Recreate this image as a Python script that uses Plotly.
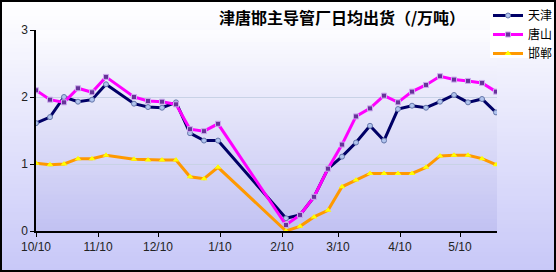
import plotly.graph_objects as go

# ---- data ----
dates = [
    "2013-10-10", "2013-10-17", "2013-10-24", "2013-10-31", "2013-11-07", "2013-11-14",
    "2013-11-28", "2013-12-05", "2013-12-12", "2013-12-19", "2013-12-26", "2014-01-02", "2014-01-09",
    "2014-02-12", "2014-02-19", "2014-02-26", "2014-03-05", "2014-03-12", "2014-03-19", "2014-03-26",
    "2014-04-02", "2014-04-09", "2014-04-16", "2014-04-23", "2014-04-30", "2014-05-07", "2014-05-14",
    "2014-05-21", "2014-05-28",
]
tianjin = [1.61, 1.70, 2.00, 1.93, 1.96, 2.19,
           1.90, 1.85, 1.84, 1.92, 1.46, 1.35, 1.35,
           0.19, 0.24, 0.51, 0.93, 1.11, 1.32, 1.57,
           1.35, 1.82, 1.87, 1.84, 1.93, 2.03, 1.92, 1.97, 1.77]
tangshan = [2.10, 1.96, 1.92, 2.13, 2.07, 2.30,
            2.00, 1.94, 1.93, 1.89, 1.52, 1.49, 1.60,
            0.09, 0.24, 0.51, 0.93, 1.29, 1.71, 1.83,
            2.02, 1.92, 2.08, 2.18, 2.31, 2.26, 2.24, 2.21, 2.08]
handan = [1.01, 0.99, 1.00, 1.08, 1.08, 1.13,
          1.07, 1.06, 1.06, 1.06, 0.81, 0.78, 0.95,
          0.00, 0.07, 0.21, 0.31, 0.66, 0.76, 0.86,
          0.86, 0.86, 0.86, 0.95, 1.12, 1.13, 1.13, 1.08, 0.99]
series_names = ["天津", "唐山", "邯郸"]
tick_dates = ["2013-10-10", "2013-11-10", "2013-12-10", "2014-01-10",
              "2014-02-10", "2014-03-10", "2014-04-10", "2014-05-10"]
tick_labels = ["10/10", "11/10", "12/10", "1/10", "2/10", "3/10", "4/10", "5/10"]
title_text = "津唐邯主导管厂日均出货（/万吨）"

W, H = 556, 272
L, R, T, B = 36, 59, 30, 41
pw, ph = W - L - R, H - T - B

fig = go.Figure()
fig.add_trace(go.Scatter(
    x=dates, y=tianjin, name=series_names[0], mode="lines+markers",
    line=dict(color="#000066", width=3),
    marker=dict(symbol="circle", size=5, color="#b0c4ee", line=dict(color="#6677aa", width=1)),
))
fig.add_trace(go.Scatter(
    x=dates, y=tangshan, name=series_names[1], mode="lines+markers",
    line=dict(color="#ff00ff", width=3),
    marker=dict(symbol="square", size=5, color="#663399", line=dict(color="#ccaaee", width=1)),
))
fig.add_trace(go.Scatter(
    x=dates, y=handan, name=series_names[2], mode="lines+markers",
    line=dict(color="#ff9900", width=3),
    marker=dict(symbol="triangle-up", size=6, color="#ffff00", line=dict(width=0)),
))


def px_to_paper_x(px):
    return (px - L) / pw


def py_to_paper_y(py):
    return (H - B - py) / ph


def lerp(c0, c1, t):
    return "rgb(%d,%d,%d)" % tuple(round(a + (b - a) * t) for a, b in zip(c0, c1))


shapes = []
# outer canvas gradient
n = 68
for i in range(n):
    y0 = i * H / n
    y1 = (i + 1) * H / n + 0.5
    shapes.append(dict(type="rect", xref="paper", yref="paper", layer="below",
                       x0=px_to_paper_x(0), x1=px_to_paper_x(W),
                       y0=py_to_paper_y(y1), y1=py_to_paper_y(y0),
                       line=dict(width=0),
                       fillcolor=lerp((255, 255, 255), (200, 200, 248), i / (n - 1))))
# plot area gradient
n2 = 50
for i in range(n2):
    y0 = T + i * ph / n2
    y1 = T + (i + 1) * ph / n2 + 0.5
    shapes.append(dict(type="rect", xref="paper", yref="paper", layer="below",
                       x0=0, x1=1,
                       y0=py_to_paper_y(min(y1, T + ph)), y1=py_to_paper_y(y0),
                       line=dict(width=0),
                       fillcolor=lerp((252, 252, 255), (194, 194, 242), i / (n2 - 1))))
# legend white box
shapes.append(dict(type="rect", xref="paper", yref="paper", layer="above",
                   x0=px_to_paper_x(490), x1=px_to_paper_x(552),
                   y0=py_to_paper_y(58), y1=py_to_paper_y(4),
                   line=dict(width=0), fillcolor="#ffffff"))
# border
shapes.append(dict(type="rect", xref="paper", yref="paper", layer="above",
                   x0=px_to_paper_x(1), x1=px_to_paper_x(W - 1),
                   y0=py_to_paper_y(H - 1), y1=py_to_paper_y(1),
                   line=dict(color="#000000", width=2), fillcolor="rgba(0,0,0,0)"))

fig.update_layout(
    width=W, height=H,
    margin=dict(l=L, r=R, t=T, b=B, pad=0, autoexpand=False),
    paper_bgcolor="#ffffff",
    plot_bgcolor="rgba(0,0,0,0)",
    shapes=shapes,
    showlegend=True,
    legend=dict(x=px_to_paper_x(488), y=py_to_paper_y(1), xanchor="left", yanchor="top",
                bgcolor="rgba(0,0,0,0)", borderwidth=0,
                font=dict(family="Noto Sans CJK SC", size=12, color="#000000"),
                itemwidth=30, tracegroupgap=0),
    title=dict(text=title_text, x=px_to_paper_x(342), xref="paper", xanchor="center",
               y=1 - 18 / H, yref="container", yanchor="middle",
               font=dict(family="Noto Sans CJK SC", size=16, color="#000000", weight="bold")),
    font=dict(family="Liberation Sans, Arial", size=12, color="#222222"),
)
fig.update_xaxes(
    type="date", range=["2013-10-10", "2014-05-28 12:00"],
    tickmode="array", tickvals=tick_dates, ticktext=tick_labels,
    showgrid=False, zeroline=False, showline=True, linecolor="#000000", linewidth=1.5,
    ticks="outside", ticklen=4, tickcolor="#000000", tickwidth=1,
    tickfont=dict(family="Liberation Sans, Arial", size=12, color="#222222"),
)
fig.update_yaxes(
    range=[0, 3], tickmode="array", tickvals=[0, 1, 2, 3],
    showgrid=True, gridcolor="#c8d2e6", gridwidth=1, zeroline=False,
    showline=True, linecolor="#000000", linewidth=1.5,
    ticks="outside", ticklen=4, tickcolor="#000000", tickwidth=1,
    tickfont=dict(family="Liberation Sans, Arial", size=12, color="#222222"),
)

fig.write_html("out.html")
